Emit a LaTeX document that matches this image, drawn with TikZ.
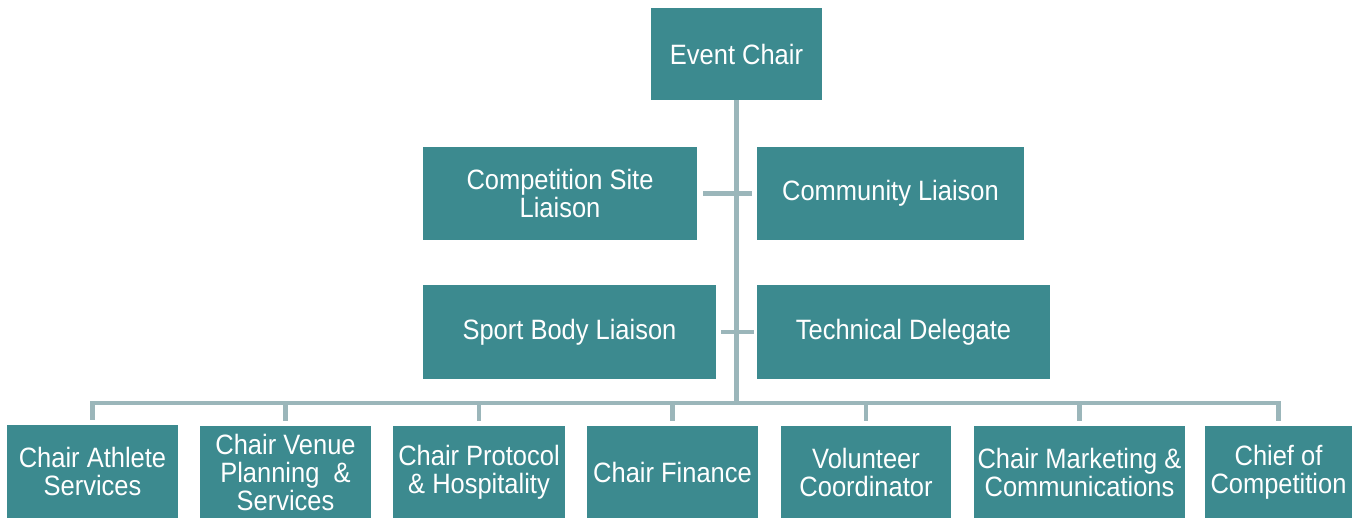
\documentclass[tikz,border=0pt]{standalone}
\usepackage{fontspec}
\setmainfont[FakeStretch=0.91]{Liberation Sans}
\definecolor{boxfill}{HTML}{3C8A8F}
\definecolor{linecol}{HTML}{9BB6BA}
\begin{document}
\begin{tikzpicture}[x=1pt,y=-1pt,
  box/.style={fill=boxfill, draw=none, text=white, align=center, inner sep=0pt,
    font=\fontsize{28}{28}\selectfont},
  conn/.style={draw=linecol, line width=4.5pt}]
\useasboundingbox[fill=white] (0,0) rectangle (1360,518);
\node[box, minimum width=171pt, minimum height=92pt] (ec) at (736.5,54) {Event Chair};
\node[box, minimum width=274pt, minimum height=93pt] (csl) at (560,193.5) {Competition Site\\Liaison};
\node[box, minimum width=267pt, minimum height=93pt] (cl) at (890.5,193.5) {Community Liaison};
\node[box, minimum width=293pt, minimum height=94pt] (sbl) at (569.5,332) {Sport Body Liaison};
\node[box, minimum width=293pt, minimum height=94pt] (td) at (903.5,332) {Technical Delegate};
\node[box, minimum width=171pt, minimum height=93pt] (b1) at (92.5,471.5) {Chair Athlete\\Services};
\node[box, minimum width=171pt, minimum height=92pt] (b2) at (285.5,472) {Chair Venue\\Planning~ \&\\Services};
\node[box, minimum width=172pt, minimum height=92pt] (b3) at (479,472) {Chair Protocol\\\& Hospitality};
\node[box, minimum width=171pt, minimum height=92pt] (b4) at (672.5,472) {Chair Finance};
\node[box, minimum width=170pt, minimum height=92pt] (b5) at (866,472) {Volunteer\\Coordinator};
\node[box, minimum width=211pt, minimum height=92pt] (b6) at (1079.5,472) {Chair Marketing \&\\Communications};
\node[box, minimum width=147pt, minimum height=92pt] (b7) at (1278.5,472) {Chief of\\Competition};
\coordinate (hub) at (736.5,403);
\draw[conn] (ec.south) -- (hub);
\draw[conn] ([yshift=5pt]b1.north) |- (hub) -| ([yshift=5pt]b7.north);
\foreach \b in {b2,b3,b4,b5,b6}{
  \draw[conn] ([yshift=5pt]\b.north) -- (\b.north |- hub);
}
\draw[conn] ([xshift=6pt]csl.east) -- ([xshift=-5pt]cl.west);
\draw[conn] ([xshift=5pt]sbl.east) -- ([xshift=-3pt]td.west);
\end{tikzpicture}
\end{document}
